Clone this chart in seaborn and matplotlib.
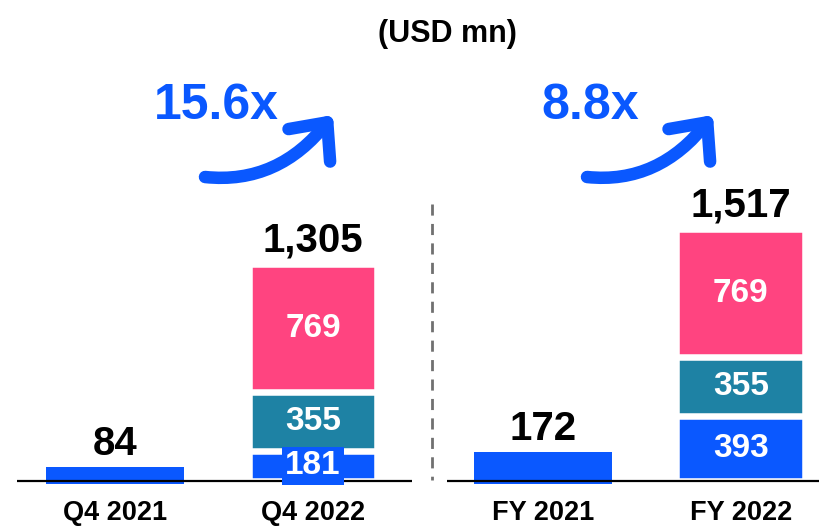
import matplotlib
matplotlib.use("Agg")
import matplotlib.pyplot as plt
import seaborn as sns
import pandas as pd

# ---- data ----
periods = ["Q4 2021", "Q4 2022", "FY 2021", "FY 2022"]
seg_blue = [84, 181, 172, 393]
seg_teal = [0, 355, 0, 355]
seg_pink = [0, 769, 0, 769]
totals_txt = ["84", "1,305", "172", "1,517"]
growth_labels = ["15.6x", "8.8x"]
unit_label = "(USD mn)"

# ---- layout (not data) ----
xpos = [0.0, 1.0, 2.16, 3.16]
BLUE = "#0A58FF"
TEAL = "#1E82A4"
PINK = "#FF4480"

sns.set_theme(style="white")
plt.rcParams["font.family"] = ["Liberation Sans", "DejaVu Sans"]

W, H = 820, 527
fig = plt.figure(figsize=(W / 100, H / 100), dpi=100)
ax = fig.add_axes([0, 0, 1, 1])

X0, XS = 115.0, 198.0        # pixel of x=0, pixels per x unit
BASE, YS = 481.0, 6.024      # baseline pixel row, data units per pixel

def px2x(p):
    return (p - X0) / XS

def py2y(p):
    return (BASE - p) * YS

df = pd.DataFrame({"period": periods, "x": xpos,
                   "blue": seg_blue, "teal": seg_teal, "pink": seg_pink})
df["cum_teal"] = df["blue"] + df["teal"]
df["total"] = df["cum_teal"] + df["pink"]

for col, colr in [("total", PINK), ("cum_teal", TEAL), ("blue", BLUE)]:
    sns.barplot(data=df, x="x", y=col, native_scale=True, orient="x",
                width=0.65, color=colr, saturation=1, edgecolor="white",
                linewidth=4.7, errorbar=None, ax=ax, zorder=2)

# single-segment (2021) bars: no white gap edges, slightly wider
single_x = [xpos[i] for i in range(len(xpos)) if seg_teal[i] == 0]
wide = 138 / XS
for p in ax.patches:
    cx = p.get_x() + p.get_width() / 2
    if any(abs(cx - s) < 1e-6 for s in single_x):
        p.set_linewidth(0)
        p.set_x(cx - wide / 2)
        p.set_width(wide)
        h = p.get_height()
        p.set_y(-3 * YS)
        p.set_height(h + 3 * YS)

ax.set_xlim(px2x(0), px2x(W))
ax.set_ylim(py2y(H), py2y(0))
ax.axis("off")

# baselines
ax.plot([px2x(17), px2x(412)], [0, 0], color="black", lw=1.6, zorder=3,
        solid_capstyle="butt")
ax.plot([px2x(447), px2x(W)], [0, 0], color="black", lw=1.6, zorder=3,
        solid_capstyle="butt")
# dashed separator
ax.plot([px2x(432), px2x(432)], [py2y(204), py2y(480)], color="#707070",
        lw=2, dashes=(4, 3), zorder=3)

# segment labels
for i, r in df.iterrows():
    x = r["x"]
    if r["teal"] > 0:
        b, t, p = r["blue"], r["teal"], r["pink"]
        ax.text(x, b / 2, f"{b}", ha="center", va="center", color="white",
                fontsize=24, fontweight="bold", zorder=5,
                bbox=(dict(boxstyle="square,pad=0.1", fc=BLUE, ec="none")
                      if b < 250 else None))
        ax.text(x, b + t / 2, f"{t}", ha="center", va="center",
                color="white", fontsize=24, fontweight="bold", zorder=5)
        ax.text(x, b + t + p / 2, f"{p}", ha="center", va="center",
                color="white", fontsize=24, fontweight="bold", zorder=5)
    ax.annotate(totals_txt[i], (x, r["total"]), xytext=(0, 9),
                textcoords="offset points", ha="center", va="baseline",
                fontsize=29, fontweight="bold", color="black", zorder=5)
    ax.text(x, py2y(520), r["period"], ha="center", va="baseline",
            fontsize=19.5, fontweight="bold", color="black")

# title
fig.text(447 / W, 1 - 34 / H, unit_label, ha="center", va="center",
         fontsize=22, fontweight="bold", color="black")

# growth labels and arrows
for lab, tx, sx, ex in [(growth_labels[0], 216, 205, 333),
                        (growth_labels[1], 590, 587, 713)]:
    fig.text(tx / W, 1 - 106 / H, lab, ha="center", va="center",
             fontsize=36, fontweight="bold", color=BLUE)
    ax.annotate("", xy=(ex / W, 1 - 115 / H), xytext=(sx / W, 1 - 177 / H),
                xycoords="figure fraction",
                arrowprops=dict(arrowstyle="->,head_length=2.1,head_width=1.9",
                                connectionstyle="angle3,angleA=-6,angleB=52",
                                lw=9, color=BLUE, shrinkA=0, shrinkB=0,
                                mutation_scale=10, capstyle="round",
                                joinstyle="round"))

fig.savefig("out.png", dpi=100)
